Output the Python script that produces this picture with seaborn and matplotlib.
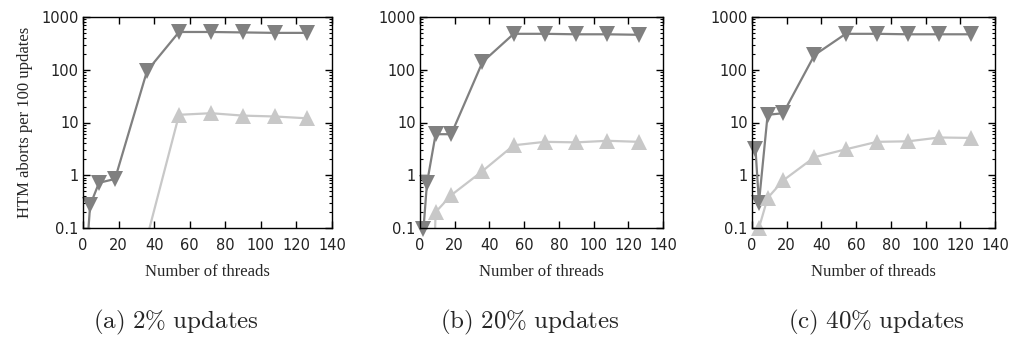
import numpy as np
import pandas as pd
import matplotlib
matplotlib.use("Agg")
import matplotlib.pyplot as plt
import seaborn as sns
from matplotlib.ticker import FixedLocator, NullFormatter, LogLocator

# ---- data ----
threads = [2, 4, 9, 18, 36, 54, 72, 90, 108, 126]

dark_a = [0.03, 0.27, 0.72, 0.85, 95, 520, 520, 510, 500, 500]
light_a = [1e-6, 1e-6, 1e-6, 1e-6, 0.066, 14, 15, 13.5, 13, 12]

dark_b = [0.095, 0.7, 6, 6, 140, 480, 480, 470, 470, 460]
light_b = [1e-6, 1e-6, 0.2, 0.42, 1.2, 3.7, 4.3, 4.2, 4.5, 4.3]

dark_c = [3.2, 0.3, 14, 15, 190, 480, 480, 470, 470, 470]
light_c = [1e-6, 0.1, 0.37, 0.8, 2.2, 3.1, 4.3, 4.4, 5.2, 5.1]

captions = ["(a) 2\\% updates", "(b) 20\\% updates", "(c) 40\\% updates"]
xticks = [0, 20, 40, 60, 80, 100, 120, 140]
yticks = [0.1, 1, 10, 100, 1000]
ytick_labels = ["0.1", "1", "10", "100", "1000"]
xlabel = "Number of threads"
ylabel = "HTM aborts per 100 updates"

# ---- style ----
sns.set_style("ticks")
plt.rcParams["font.family"] = ["DejaVu Sans"]
plt.rcParams["mathtext.fontset"] = "cm"

DARK = "#808080"
LIGHT = "#c8c8c8"

fig = plt.figure(figsize=(10.2, 3.49), dpi=100)
W, H = 1020, 349
boxes = [(83, 332), (420, 663), (752, 995)]
top_px, bot_px = 17, 228
cap_centers = [176, 530, 876]

panels = [(dark_a, light_a), (dark_b, light_b), (dark_c, light_c)]

for i, ((l, r), (dk, lt)) in enumerate(zip(boxes, panels)):
    ax = fig.add_axes([l / W, (H - bot_px) / H, (r - l) / W, (bot_px - top_px) / H])
    ax.set_yscale("log")
    for vals, col, mk in [(dk, DARK, "v"), (lt, LIGHT, "^")]:
        df = pd.DataFrame({"x": threads, "y": vals})
        sns.lineplot(data=df, x="x", y="y", ax=ax, color=col, lw=1.6,
                     estimator=None, sort=False, legend=False)
        vis = df[df["y"] >= 0.09]
        sns.lineplot(data=vis, x="x", y="y", ax=ax, color=col, lw=0,
                     marker=mk, markersize=11, markeredgewidth=0,
                     estimator=None, sort=False, legend=False, clip_on=False)
    ax.set_xlim(0, 140)
    ax.set_ylim(0.1, 1000)
    ax.xaxis.set_major_locator(FixedLocator(xticks))
    ax.set_xticklabels([str(t) for t in xticks])
    ax.yaxis.set_major_locator(FixedLocator(yticks))
    ax.set_yticklabels(ytick_labels)
    ax.yaxis.set_minor_locator(LogLocator(base=10, subs=np.arange(2, 10)))
    ax.yaxis.set_minor_formatter(NullFormatter())
    ax.tick_params(which="both", direction="in", top=True, right=True,
                   colors="black", labelcolor="#222222", labelsize=10.5)
    ax.tick_params(which="major", length=5, width=1)
    ax.tick_params(which="minor", length=2.5, width=0.8)
    ax.tick_params(axis="x", pad=7)
    ax.tick_params(axis="y", pad=3)
    for s in ax.spines.values():
        s.set_visible(True)
        s.set_color("black")
        s.set_linewidth(1.0)
    ax.set_xlabel(xlabel, fontfamily="Liberation Serif", fontsize=12, labelpad=8)
    if i == 0:
        ax.set_ylabel(ylabel, fontfamily="Liberation Serif", fontsize=12, labelpad=6)
    else:
        ax.set_ylabel("")
    fig.text(cap_centers[i] / W, (H - 322) / H, "$\\mathrm{" + captions[i].replace(" ", "\\ ") + "}$",
             ha="center", va="center", fontsize=18)

fig.savefig("out.png", dpi=100)
